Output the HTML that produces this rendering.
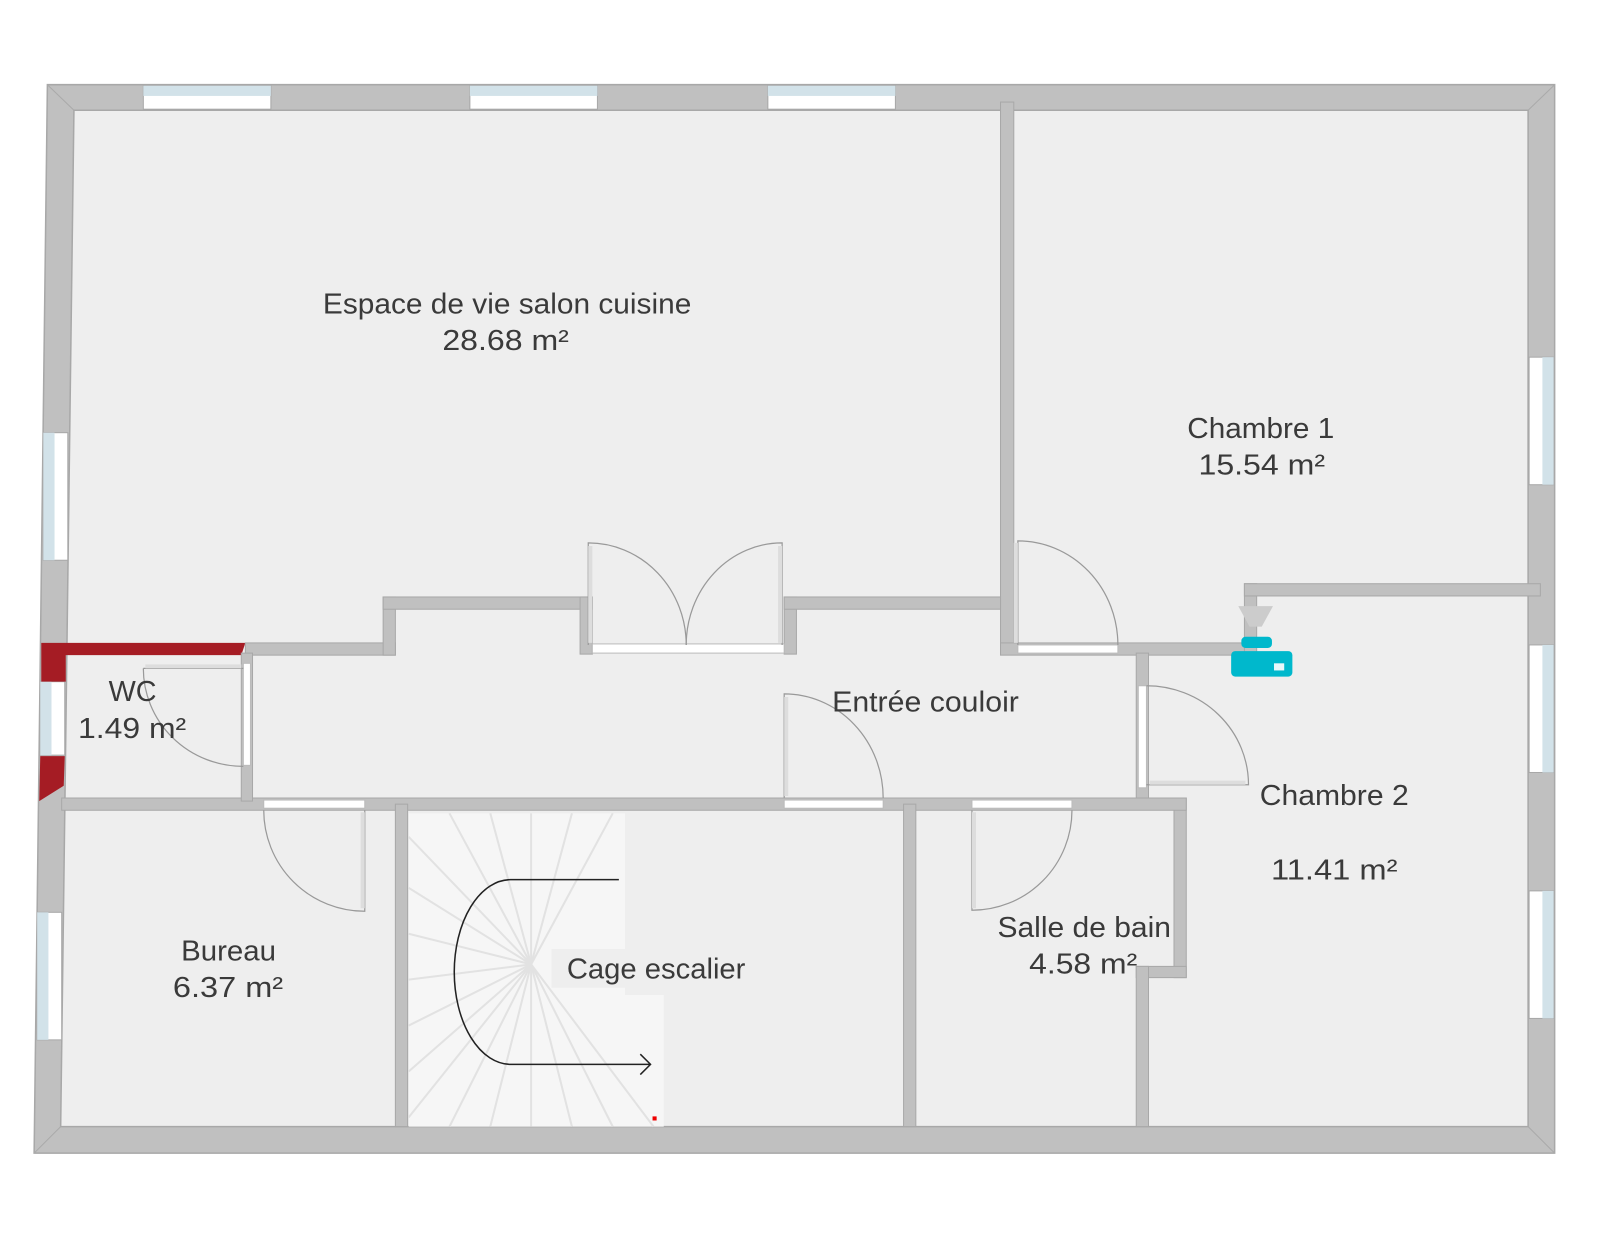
<!DOCTYPE html>
<html><head><meta charset="utf-8"><style>
html,body{margin:0;padding:0;background:#fff;}
svg{display:block}
text{font-family:"Liberation Sans",sans-serif;font-size:28px;fill:#3a3a3a;text-anchor:start}
</style></head><body>
<svg width="1600" height="1246" viewBox="0 0 1567 1221" xmlns="http://www.w3.org/2000/svg">
<polygon points="72,108 1497,108 1497,1104 59,1104" fill="#eeeeee"/>
<path d="M46,83 L1523,83 L1523,1130 L33,1130 Z M72,108 L59,1104 L1497,1104 L1497,108 Z" fill="#c0c0c0" fill-rule="evenodd" stroke="#a8a8a8" stroke-width="1.5"/>
<g stroke="#aaa" stroke-width="1"><line x1="46" y1="83" x2="72" y2="108"/><line x1="1523" y1="83" x2="1497" y2="108"/><line x1="1523" y1="1130" x2="1497" y2="1104"/><line x1="33" y1="1130" x2="59" y2="1104"/></g>
<g stroke="#a8a8a8" stroke-width="1">
<rect x="140" y="84" width="125" height="23" fill="#fff"/><rect x="140" y="84" width="125" height="10" fill="#d2e2e9" stroke="none"/>
<rect x="460" y="84" width="125" height="23" fill="#fff"/><rect x="460" y="84" width="125" height="10" fill="#d2e2e9" stroke="none"/>
<rect x="752" y="84" width="125" height="23" fill="#fff"/><rect x="752" y="84" width="125" height="10" fill="#d2e2e9" stroke="none"/>
<rect x="1498" y="350" width="24" height="125" fill="#fff"/><rect x="1511" y="350" width="11" height="125" fill="#d2e2e9" stroke="none"/>
<rect x="1498" y="632" width="24" height="125" fill="#fff"/><rect x="1511" y="632" width="11" height="125" fill="#d2e2e9" stroke="none"/>
<rect x="1498" y="873" width="24" height="125" fill="#fff"/><rect x="1511" y="873" width="11" height="125" fill="#d2e2e9" stroke="none"/>
<rect x="42" y="424" width="24" height="125" fill="#fff"/><rect x="42" y="424" width="11" height="125" fill="#d2e2e9" stroke="none"/>
<rect x="39" y="668" width="24" height="72" fill="#fff"/><rect x="39" y="668" width="11" height="72" fill="#d2e2e9" stroke="none"/>
<rect x="36" y="894" width="24" height="125" fill="#fff"/><rect x="36" y="894" width="11" height="125" fill="#d2e2e9" stroke="none"/>
</g>
<polygon points="40,630 240,630 236,642 64,642 64,668 40,668" fill="#a51c24"/>
<polygon points="39,741 63,741 62,770 38,785" fill="#a51c24"/>
<g fill="#c0c0c0" stroke="#a8a8a8" stroke-width="1">
<rect x="980" y="100" width="13" height="540"/>
<rect x="240" y="630" width="147" height="12"/>
<rect x="375" y="585" width="12" height="57"/>
<rect x="375" y="585" width="205" height="12"/>
<rect x="568" y="585" width="12" height="56"/>
<rect x="768" y="585" width="12" height="56"/>
<rect x="768" y="585" width="212" height="12"/>
<rect x="980" y="630" width="250" height="12"/>
<rect x="1219" y="572" width="12" height="70"/>
<rect x="1219" y="572" width="290" height="12"/>
<rect x="1113" y="640" width="12" height="148"/>
<rect x="1150" y="782" width="12" height="176"/>
<rect x="1113" y="947" width="49" height="11"/>
<rect x="1113" y="947" width="12" height="157"/>
<rect x="60" y="782" width="1102" height="12"/>
<rect x="236" y="640" width="11" height="145"/>
<rect x="387" y="788" width="12" height="316"/>
<rect x="885" y="788" width="12" height="316"/>
</g>
<g fill="#fff" stroke="#bbb" stroke-width="1">
<rect x="580" y="631" width="188" height="9"/>
<rect x="997" y="632" width="98" height="8"/>
<rect x="1115" y="672" width="8" height="100"/>
<rect x="258" y="784" width="99" height="8"/>
<rect x="768" y="784" width="97" height="8"/>
<rect x="952" y="784" width="98" height="8"/>
<rect x="238" y="650" width="7" height="100"/>
</g>
<g fill="none" stroke="#999" stroke-width="1.2">
<path d="M576,632 L576,532 A96,100 0 0 1 672,632"/>
<path d="M766,632 L766,532 A94,100 0 0 0 672,632"/>
<path d="M997,632 L997,530 A98,102 0 0 1 1095,632"/>
<path d="M768,782 L768,680 A97,102 0 0 1 865,782"/>
<path d="M1123,672 A100,97 0 0 1 1223,769 L1123,769"/>
<path d="M952,794 L952,892 A98,98 0 0 0 1050,794"/>
<path d="M357,794 L357,893 A99,99 0 0 1 258,794"/>
<path d="M140,655 L238,655 M140,655 A98,96 0 0 0 238,751"/>
</g>
<g stroke="#ddd" stroke-width="4"><line x1="578" y1="535" x2="578" y2="630"/><line x1="764" y1="535" x2="764" y2="630"/><line x1="995" y1="532" x2="995" y2="630"/><line x1="770" y1="683" x2="770" y2="780"/><line x1="1126" y1="767" x2="1220" y2="767"/><line x1="954" y1="796" x2="954" y2="890"/><line x1="355" y1="796" x2="355" y2="890"/><line x1="142" y1="653" x2="236" y2="653"/></g>
<polygon points="400,797 612,797 612,975 650,975 650,1104 400,1104" fill="#f6f6f6"/>
<g stroke="#e2e2e2" stroke-width="2">
<line x1="520" y1="945" x2="400" y2="820"/><line x1="520" y1="945" x2="440" y2="797"/><line x1="520" y1="945" x2="480" y2="797"/><line x1="520" y1="945" x2="520" y2="797"/><line x1="520" y1="945" x2="560" y2="797"/><line x1="520" y1="945" x2="600" y2="797"/>
<line x1="520" y1="945" x2="400" y2="870"/><line x1="520" y1="945" x2="400" y2="915"/><line x1="520" y1="945" x2="400" y2="960"/><line x1="520" y1="945" x2="400" y2="1005"/><line x1="520" y1="945" x2="400" y2="1050"/><line x1="520" y1="945" x2="400" y2="1095"/>
<line x1="520" y1="945" x2="440" y2="1104"/><line x1="520" y1="945" x2="480" y2="1104"/><line x1="520" y1="945" x2="520" y2="1104"/><line x1="520" y1="945" x2="560" y2="1104"/><line x1="520" y1="945" x2="600" y2="1104"/><line x1="520" y1="945" x2="640" y2="1104"/>
</g>
<rect x="540" y="930" width="200" height="38" fill="#eeeeee"/>
<path d="M606,862 L500,862 A55,90 0 0 0 500,1043 L637,1043 M627,1033 L637,1043 L627,1053" fill="none" stroke="#222" stroke-width="1.5"/>
<rect x="639" y="1094" width="4" height="4" fill="#e00"/>
<polygon points="1213,594 1247,594 1236,614 1224,614" fill="#ccc"/>
<rect x="1216" y="624" width="30" height="11" rx="4" fill="#00b8cc"/>
<rect x="1206" y="638" width="60" height="25" rx="4" fill="#00b8cc"/>
<rect x="1248" y="650" width="10" height="7" fill="#e8f8fa"/>
<text x="316" y="307" textLength="361" lengthAdjust="spacingAndGlyphs">Espace de vie salon cuisine</text>
<text x="433" y="343" textLength="124" lengthAdjust="spacingAndGlyphs">28.68 m²</text>
<text x="1163" y="429" textLength="144" lengthAdjust="spacingAndGlyphs">Chambre 1</text>
<text x="1174" y="465" textLength="124" lengthAdjust="spacingAndGlyphs">15.54 m²</text>
<text x="106" y="687" textLength="47" lengthAdjust="spacingAndGlyphs">WC</text>
<text x="76" y="723" textLength="106" lengthAdjust="spacingAndGlyphs">1.49 m²</text>
<text x="815" y="697" textLength="183" lengthAdjust="spacingAndGlyphs">Entrée couloir</text>
<text x="1234" y="789" textLength="146" lengthAdjust="spacingAndGlyphs">Chambre 2</text>
<text x="1245" y="862" textLength="124" lengthAdjust="spacingAndGlyphs">11.41 m²</text>
<text x="177" y="941" textLength="93" lengthAdjust="spacingAndGlyphs">Bureau</text>
<text x="169" y="977" textLength="108" lengthAdjust="spacingAndGlyphs">6.37 m²</text>
<text x="555" y="959" textLength="175" lengthAdjust="spacingAndGlyphs">Cage escalier</text>
<text x="977" y="918" textLength="170" lengthAdjust="spacingAndGlyphs">Salle de bain</text>
<text x="1008" y="954" textLength="106" lengthAdjust="spacingAndGlyphs">4.58 m²</text>
</svg>
</body></html>
